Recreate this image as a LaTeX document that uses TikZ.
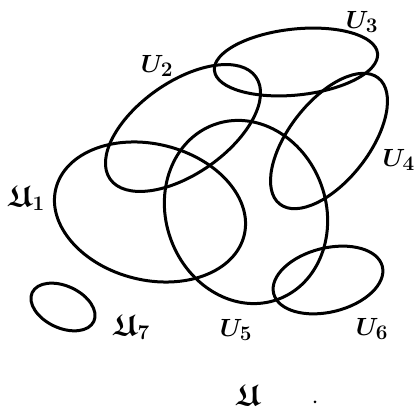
\documentclass[tikz,border=0pt]{standalone}
\usepackage{amssymb}
\begin{document}
\begin{tikzpicture}[x=1pt,y=-1pt,
  setline/.style={line width=3pt},
  lbl/.style={font=\fontsize{30}{34}\selectfont\boldmath,inner sep=0pt}]
\useasboundingbox (0,0) rectangle (416,411);
% U1
\draw[setline,rotate around={-14:(150,212)}] (150,212) ellipse [x radius=97, y radius=68];
% U2
\draw[setline,rotate around={35:(183,128)}] (183,128) ellipse [x radius=89, y radius=46];
% U3
\draw[setline,rotate around={6:(296,62)}] (296,62) ellipse [x radius=82, y radius=33];
% U4
\draw[setline,rotate around={52:(329,141)}] (329,141) ellipse [x radius=80, y radius=40];
% U5
\draw[setline,rotate around={20:(246,212)}] (246,212) ellipse [x radius=80, y radius=93];
% U6
\draw[setline,rotate around={14:(328,280)}] (328,280) ellipse [x radius=56, y radius=32];
% U7
\draw[setline,rotate around={-25:(63,307)}] (63,307) ellipse [x radius=34, y radius=21];
% labels
\node[lbl] (l1) at (26,198) {$\mathfrak{U}_1$};
\node[lbl] (l2) at (157,66) {$U_2$};
\node[lbl] (l3) at (362,22) {$U_3$};
\node[lbl,anchor=east] (l4) at (415,160) {$U_4$};
\node[lbl] (l5) at (236,330) {$U_5$};
\node[lbl] (l6) at (372,329) {$U_6$};
\node[lbl] (l7) at (131,327) {$\mathfrak{U}_7$};
\node[lbl] (lu) at (248,395) {$\mathfrak{U}$};
\fill (315,402) circle (1.5pt);
\end{tikzpicture}
\end{document}
